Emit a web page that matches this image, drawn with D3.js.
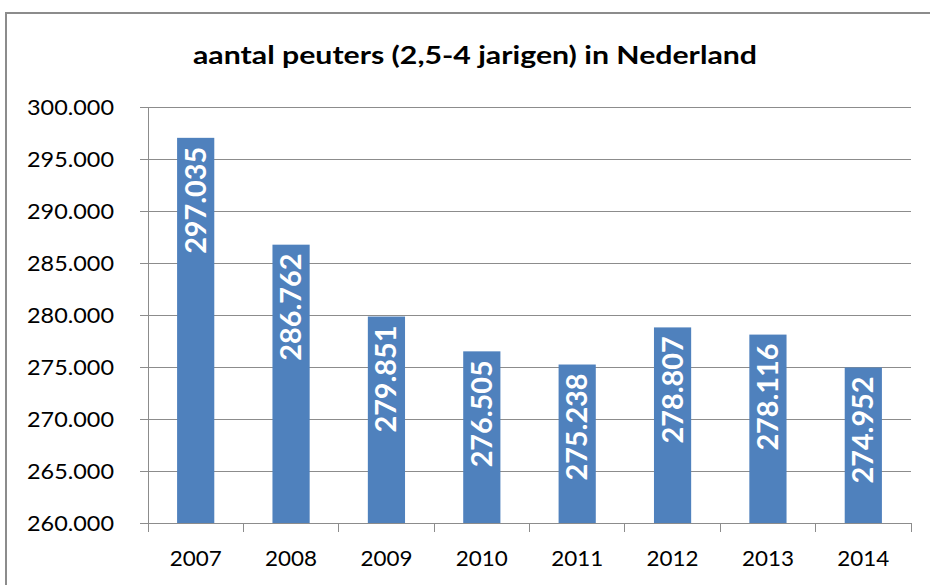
<!DOCTYPE html>
<html><head><meta charset="utf-8">
<script src="https://cdn.jsdelivr.net/npm/d3@7"></script>
<style>body{margin:0;background:#fff}svg{display:block}</style>
</head><body>
<script>
const categories = ["2007","2008","2009","2010","2011","2012","2013","2014"];
const values = [297035, 286762, 279851, 276505, 275238, 278807, 278116, 274952];
const yTicks = [260000,265000,270000,275000,280000,285000,290000,295000,300000];
const title = "aantal peuters (2,5-4 jarigen) in Nederland";

(function(){
const W = 930, H = 585;
const svg = d3.select("body").append("svg").attr("width", W).attr("height", H);
svg.append("rect").attr("x",6).attr("y",13).attr("width",W).attr("height",H)
  .attr("fill","#fff").attr("stroke","#8c8c8c").attr("stroke-width",2);

const pl = 148, pr = 911, pt = 107, pb = 523;
const fmt = v => d3.format(",")(v).replace(/,/g, ".");
const x = d3.scaleBand().domain(categories).range([pl, pr]).paddingInner(0.61).paddingOuter(0.305);
const y = d3.scaleLinear().domain([260000, 300000]).range([pb, pt]);
const font = "Lato, 'Open Sans', sans-serif";

svg.append("text").attr("x", 475).attr("y", 64).attr("text-anchor","middle")
  .attr("font-family", font).attr("font-weight","bold").attr("font-size", 25)
  .attr("textLength", 564).attr("lengthAdjust","spacingAndGlyphs")
  .attr("fill","#000").text(title);

svg.append("g").selectAll("line").data(yTicks.slice(1)).join("line")
  .attr("x1", pl - 8).attr("x2", pr).attr("y1", d => y(d)).attr("y2", d => y(d))
  .attr("stroke","#8c8c8c").attr("stroke-width",1).attr("shape-rendering","crispEdges");

const yAxis = svg.append("g").attr("transform", `translate(${pl},0)`)
  .call(d3.axisLeft(y).tickValues(yTicks).tickFormat(fmt).tickSize(8).tickPadding(26));
yAxis.selectAll("text").attr("font-family", font).attr("font-size", 21).attr("fill","#000")
  .attr("textLength", 87).attr("lengthAdjust","spacingAndGlyphs").attr("dy","0.38em");
yAxis.selectAll("line,path").attr("stroke","#8c8c8c").attr("shape-rendering","crispEdges");
yAxis.select(".domain").attr("d", `M0,${pt}V${pb}`);

const xg = svg.append("g").attr("transform", `translate(0,${pb})`);
xg.append("line").attr("x1", pl - 8).attr("x2", pr).attr("stroke","#8c8c8c").attr("shape-rendering","crispEdges");
const bounds = categories.map((c,i) => pl + i * (pr-pl)/categories.length).concat([pr]);
xg.selectAll("line.t").data(bounds).join("line").attr("class","t")
  .attr("x1", d=>d).attr("x2", d=>d).attr("y1",0).attr("y2",9)
  .attr("stroke","#8c8c8c").attr("shape-rendering","crispEdges");
xg.selectAll("text").data(categories).join("text")
  .attr("x", d => x(d) + x.bandwidth()/2).attr("y", 43).attr("text-anchor","middle")
  .attr("font-family", font).attr("font-size", 21).attr("fill","#000")
  .attr("textLength", 52).attr("lengthAdjust","spacingAndGlyphs").text(d=>d);

const data = categories.map((c,i)=>({c, v: values[i]}));
svg.append("g").selectAll("rect").data(data).join("rect")
  .attr("x", d => x(d.c)).attr("width", x.bandwidth())
  .attr("y", d => y(d.v)).attr("height", d => pb - y(d.v))
  .attr("fill","#4f81bd");

svg.append("g").selectAll("text").data(data).join("text")
  .attr("transform", d => `translate(${x(d.c) + x.bandwidth()/2 + 10},${y(d.v) + 9}) rotate(-90)`)
  .attr("text-anchor","end")
  .attr("font-family", font).attr("font-weight","bold").attr("font-size", 28)
  .attr("textLength", 107).attr("lengthAdjust","spacingAndGlyphs")
  .attr("fill","#fff").text(d => fmt(d.v));
})();
</script>
</body></html>
